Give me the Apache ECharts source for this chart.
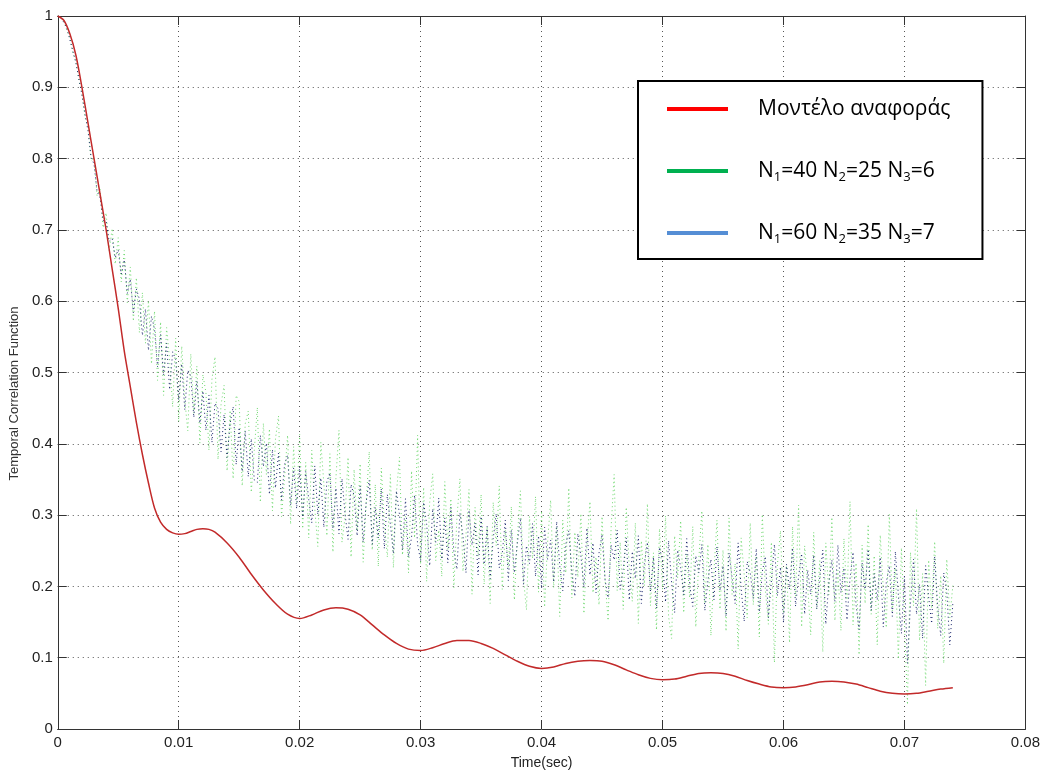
<!DOCTYPE html>
<html>
<head>
<meta charset="utf-8">
<script src="https://cdn.jsdelivr.net/npm/echarts@6/dist/echarts.min.js"></script>
<style>
  html, body { margin: 0; padding: 0; background: #ffffff; }
  #chart { width: 1043px; height: 776px; }
</style>
</head>
<body>
<div id="chart"></div>
<script>
// Series names and legend labels (subscripts via rich text)
const seriesNames = ['Μοντέλο αναφοράς', 'N1=40 N2=25 N3=6', 'N1=60 N2=35 N3=7'];
const legendLabels = ['Μοντέλο αναφοράς', 'N{s|1}=40 N{s|2}=25 N{s|3}=6', 'N{s|1}=60 N{s|2}=35 N{s|3}=7'];
const legendColors = ['#ff0000', '#00b050', '#558ed5'];
const markColors = ['#c22a2a', '#6fd86f', '#16226a'];

// Axis ranges
const timeMin = 0, timeMax = 0.08, timeInterval = 0.01;
const corrMin = 0, corrMax = 1, corrInterval = 0.1;

// Reference model (smooth curve)
const referenceTime = [
  0, 0.0005, 0.001, 0.0015, 0.002, 0.0025, 0.003, 0.0035, 0.004, 0.0045,
  0.005, 0.0055, 0.006, 0.0065, 0.007, 0.0075, 0.008, 0.0085, 0.009, 0.0095,
  0.010, 0.0105, 0.011, 0.0115, 0.012, 0.0125, 0.013, 0.014, 0.015, 0.016,
  0.017, 0.018, 0.019, 0.020, 0.021, 0.022, 0.023, 0.024, 0.025, 0.026,
  0.027, 0.028, 0.029, 0.030, 0.031, 0.032, 0.033, 0.034, 0.035, 0.036,
  0.037, 0.038, 0.039, 0.040, 0.041, 0.042, 0.043, 0.044, 0.045, 0.046,
  0.047, 0.048, 0.049, 0.050, 0.051, 0.052, 0.053, 0.054, 0.055, 0.056,
  0.057, 0.058, 0.059, 0.060, 0.061, 0.062, 0.063, 0.064, 0.065, 0.066,
  0.067, 0.068, 0.069, 0.070, 0.071, 0.072, 0.073, 0.074
];
const referenceValues = [
  1.000, 0.994, 0.975, 0.945, 0.900, 0.850, 0.800, 0.750, 0.700, 0.645,
  0.590, 0.530, 0.480, 0.430, 0.385, 0.345, 0.310, 0.290, 0.280, 0.275,
  0.273, 0.274, 0.277, 0.280, 0.281, 0.280, 0.276, 0.261, 0.241, 0.217,
  0.195, 0.176, 0.161, 0.155, 0.160, 0.167, 0.170, 0.168, 0.160, 0.146,
  0.132, 0.120, 0.112, 0.110, 0.114, 0.120, 0.124, 0.124, 0.120, 0.113,
  0.104, 0.095, 0.088, 0.085, 0.087, 0.092, 0.095, 0.096, 0.095, 0.090,
  0.083, 0.076, 0.071, 0.069, 0.070, 0.074, 0.078, 0.079, 0.078, 0.074,
  0.068, 0.063, 0.059, 0.058, 0.059, 0.062, 0.066, 0.067, 0.066, 0.063,
  0.058, 0.053, 0.050, 0.049, 0.050, 0.053, 0.056, 0.058
];

// Simulated correlation, sampled every 0.25 ms
const sampleStep = 0.00025;
const greenValues = [
  1.000, 0.997, 0.993, 0.980, 0.970, 0.948, 0.937, 0.909, 0.893, 0.858,
  0.846, 0.797, 0.801, 0.748, 0.757, 0.703, 0.724, 0.671, 0.702, 0.652,
  0.689, 0.627, 0.671, 0.598, 0.648, 0.572, 0.633, 0.556, 0.612, 0.541,
  0.601, 0.512, 0.586, 0.489, 0.571, 0.468, 0.563, 0.517, 0.452, 0.548,
  0.431, 0.537, 0.462, 0.418, 0.526, 0.443, 0.509, 0.401, 0.497, 0.472,
  0.391, 0.491, 0.522, 0.378, 0.455, 0.482, 0.362, 0.447, 0.351, 0.468,
  0.459, 0.341, 0.428, 0.446, 0.332, 0.391, 0.451, 0.318, 0.429, 0.357,
  0.421, 0.306, 0.407, 0.439, 0.298, 0.352, 0.412, 0.287, 0.396, 0.318,
  0.413, 0.281, 0.374, 0.268, 0.391, 0.309, 0.256, 0.402, 0.344, 0.271,
  0.386, 0.248, 0.353, 0.419, 0.262, 0.297, 0.381, 0.241, 0.364, 0.278,
  0.372, 0.234, 0.318, 0.389, 0.251, 0.343, 0.228, 0.366, 0.289, 0.241,
  0.357, 0.226, 0.331, 0.381, 0.244, 0.298, 0.219, 0.362, 0.268, 0.412,
  0.231, 0.339, 0.207, 0.318, 0.358, 0.236, 0.279, 0.214, 0.347, 0.252,
  0.323, 0.198, 0.296, 0.351, 0.221, 0.272, 0.336, 0.189, 0.311, 0.242,
  0.329, 0.203, 0.284, 0.176, 0.318, 0.257, 0.341, 0.196, 0.279, 0.227,
  0.312, 0.181, 0.269, 0.334, 0.212, 0.167, 0.298, 0.239, 0.326, 0.192,
  0.306, 0.171, 0.262, 0.321, 0.198, 0.284, 0.158, 0.293, 0.219, 0.338,
  0.184, 0.276, 0.213, 0.302, 0.162, 0.258, 0.319, 0.191, 0.241, 0.174,
  0.298, 0.209, 0.152, 0.283, 0.357, 0.194, 0.262, 0.168, 0.311, 0.226,
  0.179, 0.289, 0.148, 0.264, 0.201, 0.316, 0.173, 0.247, 0.139, 0.281,
  0.196, 0.299, 0.158, 0.127, 0.271, 0.212, 0.292, 0.163, 0.246, 0.184,
  0.284, 0.143, 0.238, 0.306, 0.176, 0.259, 0.131, 0.221, 0.293, 0.168,
  0.251, 0.137, 0.296, 0.189, 0.232, 0.112, 0.268, 0.217, 0.156, 0.289,
  0.174, 0.243, 0.129, 0.301, 0.196, 0.147, 0.262, 0.093, 0.231, 0.278,
  0.162, 0.229, 0.121, 0.284, 0.186, 0.314, 0.143, 0.257, 0.201, 0.132,
  0.276, 0.169, 0.236, 0.108, 0.261, 0.188, 0.297, 0.152, 0.223, 0.138,
  0.267, 0.181, 0.319, 0.146, 0.233, 0.104, 0.258, 0.176, 0.287, 0.161,
  0.243, 0.118, 0.272, 0.197, 0.142, 0.301, 0.166, 0.226, 0.098, 0.254,
  0.151, 0.034, 0.248, 0.173, 0.309, 0.124, 0.218, 0.061, 0.237, 0.169,
  0.263, 0.141, 0.215, 0.092, 0.238, 0.156, 0.201
];
const blueValues = [
  1.000, 0.998, 0.991, 0.983, 0.967, 0.951, 0.934, 0.912, 0.889, 0.863,
  0.839, 0.803, 0.792, 0.754, 0.745, 0.713, 0.712, 0.684, 0.688, 0.661,
  0.672, 0.638, 0.658, 0.611, 0.631, 0.584, 0.617, 0.603, 0.552, 0.589,
  0.531, 0.579, 0.561, 0.508, 0.553, 0.497, 0.541, 0.476, 0.529, 0.518,
  0.461, 0.512, 0.448, 0.503, 0.495, 0.437, 0.488, 0.429, 0.474, 0.419,
  0.468, 0.402, 0.457, 0.449, 0.389, 0.441, 0.381, 0.429, 0.452, 0.371,
  0.423, 0.361, 0.418, 0.354, 0.407, 0.349, 0.346, 0.412, 0.368, 0.401,
  0.329, 0.392, 0.338, 0.387, 0.321, 0.371, 0.384, 0.314, 0.366, 0.309,
  0.368, 0.297, 0.361, 0.322, 0.289, 0.369, 0.301, 0.352, 0.283, 0.347,
  0.359, 0.281, 0.338, 0.274, 0.351, 0.302, 0.266, 0.343, 0.327, 0.271,
  0.341, 0.262, 0.318, 0.349, 0.259, 0.311, 0.268, 0.337, 0.253, 0.329,
  0.287, 0.246, 0.334, 0.301, 0.251, 0.323, 0.241, 0.269, 0.328, 0.259,
  0.236, 0.318, 0.287, 0.229, 0.309, 0.262, 0.324, 0.238, 0.296, 0.233,
  0.311, 0.249, 0.224, 0.303, 0.271, 0.219, 0.307, 0.258, 0.289, 0.216,
  0.298, 0.231, 0.284, 0.211, 0.267, 0.302, 0.226, 0.246, 0.293, 0.208,
  0.279, 0.219, 0.261, 0.296, 0.203, 0.257, 0.232, 0.288, 0.214, 0.271,
  0.197, 0.283, 0.238, 0.265, 0.206, 0.291, 0.229, 0.194, 0.259, 0.278,
  0.221, 0.186, 0.274, 0.243, 0.199, 0.282, 0.216, 0.261, 0.191, 0.247,
  0.273, 0.209, 0.184, 0.258, 0.237, 0.279, 0.196, 0.224, 0.268, 0.181,
  0.249, 0.211, 0.271, 0.176, 0.232, 0.262, 0.193, 0.241, 0.169, 0.255,
  0.236, 0.178, 0.264, 0.205, 0.163, 0.251, 0.226, 0.188, 0.267, 0.201,
  0.172, 0.243, 0.219, 0.259, 0.166, 0.208, 0.238, 0.181, 0.256, 0.194,
  0.229, 0.158, 0.247, 0.212, 0.176, 0.261, 0.197, 0.151, 0.235, 0.219,
  0.183, 0.253, 0.164, 0.221, 0.242, 0.156, 0.208, 0.259, 0.187, 0.227,
  0.149, 0.231, 0.196, 0.254, 0.172, 0.214, 0.246, 0.161, 0.223, 0.189,
  0.244, 0.168, 0.213, 0.251, 0.147, 0.206, 0.237, 0.179, 0.258, 0.191,
  0.226, 0.153, 0.211, 0.248, 0.174, 0.139, 0.233, 0.196, 0.252, 0.166,
  0.218, 0.181, 0.241, 0.143, 0.206, 0.229, 0.158, 0.249, 0.187, 0.134,
  0.214, 0.092, 0.176, 0.238, 0.161, 0.203, 0.127, 0.229, 0.185, 0.148,
  0.242, 0.171, 0.131, 0.219, 0.193, 0.118, 0.176
];

// Pair values with their time stamps
const pairs = (times, values) => values.map((v, i) => [times[i], v]);
const sampleTimes = greenValues.map((_, i) => +(i * sampleStep).toFixed(5));

const axisFont = "'Liberation Sans', Arial, sans-serif";
const axisColor = '#333333';

const chart = echarts.init(document.getElementById('chart'), null, { renderer: 'canvas' });

const baseX = {
  type: 'value', min: timeMin, max: timeMax, interval: timeInterval,
  axisLine: { show: true, onZero: false, lineStyle: { color: axisColor, width: 1 } },
  axisTick: { show: true, inside: true, length: 9, lineStyle: { color: axisColor, width: 1 } }
};
const baseY = {
  type: 'value', min: corrMin, max: corrMax, interval: corrInterval,
  axisLine: { show: true, onZero: false, lineStyle: { color: axisColor, width: 1 } },
  axisTick: { show: true, inside: true, length: 9, lineStyle: { color: axisColor, width: 1 } }
};

chart.setOption({
  animation: false,
  backgroundColor: '#ffffff',
  grid: { left: 55, right: 15, top: 16, bottom: 47, containLabel: false },
  xAxis: [
    Object.assign({}, baseX, {
      position: 'bottom',
      axisLabel: { color: '#222', fontFamily: axisFont, fontSize: 15, margin: 6 },
      splitLine: { show: true, lineStyle: { color: '#555', width: 1, type: [1, 4] } },
      name: 'Time(sec)', nameLocation: 'middle', nameGap: 27,
      nameTextStyle: { color: '#222', fontFamily: axisFont, fontSize: 14 }
    }),
    Object.assign({}, baseX, {
      position: 'top',
      axisLabel: { show: false }, splitLine: { show: false }
    })
  ],
  yAxis: [
    Object.assign({}, baseY, {
      position: 'left',
      axisLabel: { color: '#222', fontFamily: axisFont, fontSize: 15, margin: 5 },
      splitLine: { show: true, lineStyle: { color: '#555', width: 1, type: [1, 4] } },
      name: 'Temporal Correlation Function', nameLocation: 'middle', nameGap: 31,
      nameTextStyle: { color: '#333', fontFamily: axisFont, fontSize: 13, padding: [0, 42, 0, 0] }
    }),
    Object.assign({}, baseY, {
      position: 'right',
      axisLabel: { show: false }, splitLine: { show: false }
    })
  ],
  legend: {
    orient: 'vertical',
    left: 638, top: 81,
    padding: [15, 32, 13, 29],
    itemGap: 36,
    itemWidth: 61, itemHeight: 4,
    icon: 'rect',
    borderColor: '#000', borderWidth: 2, backgroundColor: '#ffffff',
    data: seriesNames.map((n, i) => ({ name: n, itemStyle: { color: legendColors[i] } })),
    formatter: name => legendLabels[seriesNames.indexOf(name)],
    textStyle: {
      color: '#000', fontFamily: "'Open Sans', 'Noto Sans', sans-serif", fontSize: 21,
      lineHeight: 26, padding: [0, 0, 0, 25],
      rich: { s: { fontFamily: "'Open Sans', 'Noto Sans', sans-serif", fontSize: 13, lineHeight: 13, verticalAlign: 'bottom', color: '#000' } }
    }
  },
  series: [
    {
      name: seriesNames[1], type: 'line', showSymbol: false, symbol: 'none',
      data: pairs(sampleTimes, greenValues),
      lineStyle: { color: markColors[1], width: 1, type: [1, 3] },
      itemStyle: { color: legendColors[1] }, z: 2
    },
    {
      name: seriesNames[2], type: 'line', showSymbol: false, symbol: 'none',
      data: pairs(sampleTimes, blueValues),
      lineStyle: { color: markColors[2], width: 1, type: [1, 3] },
      itemStyle: { color: legendColors[2] }, z: 3
    },
    {
      name: seriesNames[0], type: 'line', showSymbol: false, symbol: 'none',
      smooth: 0.3,
      data: pairs(referenceTime, referenceValues),
      lineStyle: { color: markColors[0], width: 1.5 },
      itemStyle: { color: legendColors[0] }, z: 4
    }
  ]
});
</script>
</body>
</html>
